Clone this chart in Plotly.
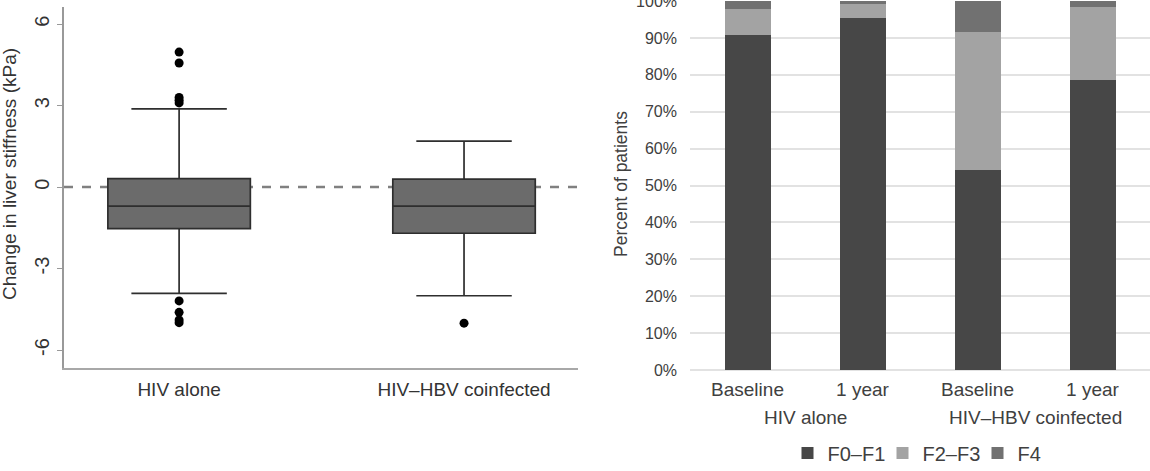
import plotly.graph_objects as go

W, H = 1150, 471

# ---------------- data ----------------
# Left panel: change in liver stiffness (kPa) box summaries
box_groups = ["HIV alone", "HIV–HBV coinfected"]
box_q1 = [-1.53, -1.70]
box_median = [-0.70, -0.70]
box_q3 = [0.31, 0.29]
box_lowerfence = [-3.91, -4.00]
box_upperfence = [2.88, 1.69]

outlier_groups = ["HIV alone"] * 9 + ["HIV–HBV coinfected"]
outlier_values = [4.97, 4.57, 3.30, 3.20, 3.10, -4.19, -4.61, -4.89, -4.99, -5.01]

# Right panel: percent of patients by fibrosis stage
bar_groups = ["HIV alone", "HIV alone", "HIV–HBV coinfected", "HIV–HBV coinfected"]
bar_times = ["Baseline", "1 year", "Baseline", "1 year"]
stage_names = ["F0–F1", "F2–F3", "F4"]
pct_f0f1 = [90.9, 95.5, 54.2, 78.6]
pct_f2f3 = [6.9, 3.7, 37.5, 19.8]
pct_f4 = [2.2, 0.8, 8.3, 1.6]
stage_values = [pct_f0f1, pct_f2f3, pct_f4]
stage_colors = ["#474747", "#a3a3a3", "#717171"]

# ---------------- figure ----------------
def px_x(p):
    return p / W

def px_y(p):
    return (H - p) / H

FONT = "Liberation Sans, Arial, sans-serif"

bar_pos = list(range(len(bar_times)))
group_names = list(dict.fromkeys(bar_groups))
group_centers = [
    sum(i for i, g in zip(bar_pos, bar_groups) if g == name) /
    sum(1 for g in bar_groups if g == name)
    for name in group_names
]

fig = go.Figure()

fig.add_trace(go.Box(
    x=box_groups,
    q1=box_q1, median=box_median, q3=box_q3,
    lowerfence=box_lowerfence, upperfence=box_upperfence,
    fillcolor="#6b6b6b",
    line=dict(color="#2e2e2e", width=1.7),
    whiskerwidth=0.67,
    width=0.5,
    boxpoints=False,
    showlegend=False,
    hoverinfo="skip",
    xaxis="x", yaxis="y",
))
fig.add_trace(go.Scatter(
    x=outlier_groups, y=outlier_values, mode="markers",
    marker=dict(color="black", size=9),
    showlegend=False, xaxis="x", yaxis="y", hoverinfo="skip",
))

for name, vals, col in zip(stage_names, stage_values, stage_colors):
    fig.add_trace(go.Bar(
        x=bar_pos, y=vals, name=name,
        marker=dict(color=col, line=dict(width=0)),
        xaxis="x2", yaxis="y2",
    ))

left_dom_x = [px_x(64), px_x(578)]
left_dom_y = [px_y(368), px_y(7)]
right_dom_x = [px_x(690), 1.0]
right_dom_y = [px_y(370), px_y(1)]

annotations = [
    dict(text="Change in liver stiffness (kPa)", textangle=-90,
         xref="paper", yref="paper", x=px_x(9), y=px_y(174),
         showarrow=False, font=dict(size=19, color="#333333"),
         xanchor="center", yanchor="middle"),
    dict(text="Percent of patients", textangle=-90,
         xref="paper", yref="paper", x=px_x(621), y=px_y(184),
         showarrow=False, font=dict(size=17.5, color="#404040"),
         xanchor="center", yanchor="middle"),
]
for name, cx in zip(group_names, group_centers):
    annotations.append(dict(
        text=name, xref="x2", yref="paper", x=cx, y=px_y(417),
        showarrow=False, font=dict(size=19, color="#404040"),
        xanchor="center", yanchor="middle",
    ))

fig.update_layout(
    width=W, height=H,
    margin=dict(l=0, r=0, t=0, b=0, autoexpand=False),
    paper_bgcolor="white", plot_bgcolor="white",
    font=dict(family=FONT, color="#333333", size=17),
    barmode="stack",
    bargap=0.6,
    xaxis=dict(
        domain=left_dom_x, anchor="y", automargin=False,
        type="category", range=[-0.404, 1.4],
        showgrid=False, zeroline=False,
        showline=True, linecolor="#a8a8a8", linewidth=2,
        ticks="", ticklabelstandoff=3,
        tickfont=dict(size=19, color="#333333"),
        fixedrange=True,
    ),
    yaxis=dict(
        domain=left_dom_y, anchor="x", automargin=False,
        range=[-6.66, 6.63],
        tickvals=[-6, -3, 0, 3, 6], ticktext=["-6", "-3", "0", "3", "6"],
        tickangle=-90,
        showgrid=False, zeroline=False,
        showline=True, linecolor="#999999", linewidth=1.5,
        ticks="outside", ticklen=5, tickcolor="#999999", tickwidth=1.2,
        tickfont=dict(size=20, color="#333333"),
    ),
    xaxis2=dict(
        domain=right_dom_x, anchor="y2", automargin=False,
        range=[-0.5, len(bar_times) - 0.5],
        tickvals=bar_pos, ticktext=bar_times,
        showgrid=False, zeroline=False, showline=False,
        ticks="", ticklabelstandoff=6,
        tickfont=dict(size=19, color="#404040"),
    ),
    yaxis2=dict(
        domain=right_dom_y, anchor="x2", automargin=False,
        range=[0, 100], dtick=10, ticksuffix="%",
        showgrid=True, gridcolor="#e2e2e2", gridwidth=1.5,
        zeroline=True, zerolinecolor="#e2e2e2", zerolinewidth=1.5,
        showline=False, ticks="", ticklabelstandoff=12,
        ticklabeloverflow="allow",
        tickfont=dict(size=16, color="#404040"),
    ),
    legend=dict(
        orientation="h", x=px_x(930), xanchor="center",
        y=px_y(453), yanchor="middle",
        font=dict(size=20, color="#404040"),
        traceorder="normal", itemwidth=30,
        entrywidth=50,
    ),
    shapes=[dict(
        type="line", xref="paper", yref="y",
        x0=left_dom_x[0], x1=left_dom_x[1], y0=0, y1=0,
        line=dict(color="#808080", width=2.5, dash="dash"),
        layer="below",
    )],
    annotations=annotations,
)

fig.write_html("out.html")
